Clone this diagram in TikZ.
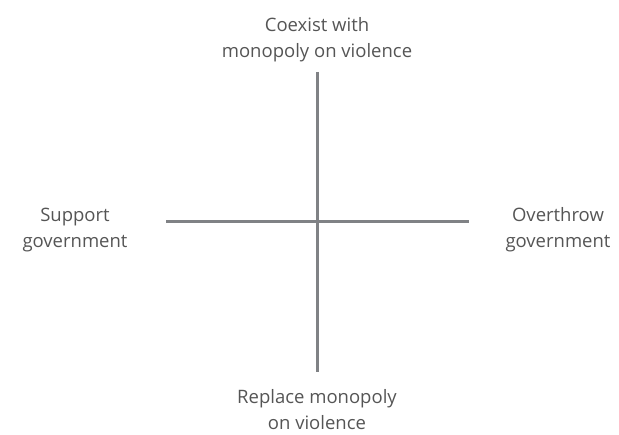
\documentclass[tikz,border=0pt]{standalone}
\usepackage{fontspec}
\setmainfont{Open Sans}
\definecolor{axisgray}{HTML}{808285}
\definecolor{labelgray}{HTML}{555555}
\begin{document}
\begin{tikzpicture}[x=1pt,y=-1pt,
  axis/.style={draw=axisgray,line width=3pt},
  lbl/.style={text=labelgray,font=\fontsize{18.5}{26.5}\selectfont,align=center,inner sep=0pt,anchor=base}]
\useasboundingbox (0,0) rectangle (619,435);
% axes
\coordinate (l) at (166,222);
\coordinate (r) at (469,222);
\coordinate (t) at (317,72);
\coordinate (b) at (317,372);
\draw[axis] (l) -- (r);
\draw[axis] (t) -- (b);
% pole labels (placed by the baseline of the last line)
\node[lbl] (top) at (317,58) {Coexist with\\monopoly on violence};
\node[lbl] (bot) at (317,430) {Replace monopoly\\on violence};
\node[lbl] (left) at (75,248) {Support\\government};
\node[lbl] (right) at (558,248) {Overthrow\\government};
\end{tikzpicture}
\end{document}
